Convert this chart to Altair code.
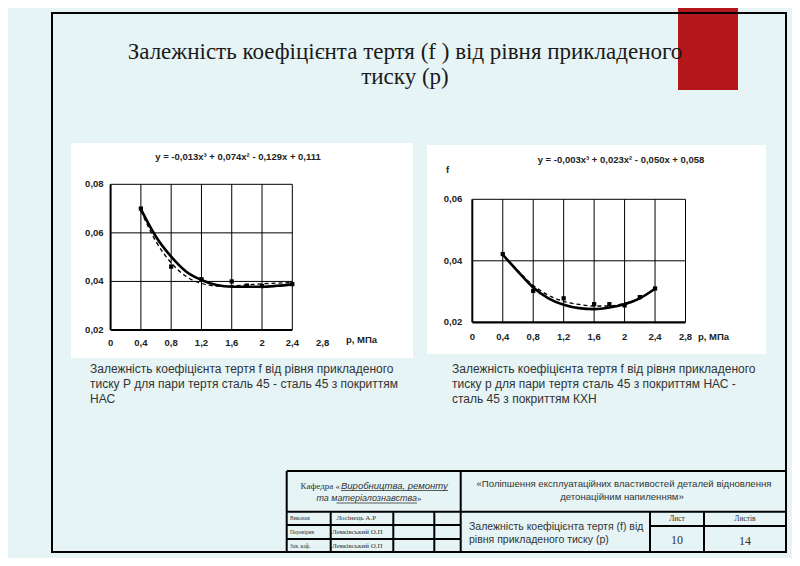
import altair as alt
import pandas as pd

# ---------------- data ----------------
p_ticks = [0, 0.4, 0.8, 1.2, 1.6, 2.0, 2.4, 2.8]
p_labels = ["0", "0,4", "0,8", "1,2", "1,6", "2", "2,4", "2,8"]

# left chart
l_f_ticks = [0.02, 0.04, 0.06, 0.08]
l_f_labels = ["0,02", "0,04", "0,06", "0,08"]
l_grid_p = [0.4, 0.8, 1.2, 1.6, 2.0, 2.4]
l_box_p = 2.4
l_meas_p = [0.4, 0.8, 1.2, 1.6, 1.8, 2.0, 2.4]
l_meas_f = [0.0700, 0.0461, 0.0409, 0.0400, 0.0383, 0.0381, 0.0389]
l_fit_p = [0.4, 0.6, 0.8, 1.0, 1.2, 1.4, 1.6, 1.8, 2.0, 2.2, 2.4]
l_fit_f = [0.0698, 0.0584, 0.0502, 0.0440, 0.0406, 0.0385, 0.0378, 0.0378, 0.0378, 0.0382, 0.0388]
l_dash_f = [0.0691, 0.0564, 0.0477, 0.0420, 0.0392, 0.0381, 0.0382, 0.0386, 0.0390, 0.0393, 0.0395]
l_equation = "y = -0,013x³ + 0,074x² - 0,129x + 0,111"

# right chart
r_f_ticks = [0.02, 0.04, 0.06]
r_f_labels = ["0,02", "0,04", "0,06"]
r_grid_p = [0.4, 0.8, 1.2, 1.6, 2.0, 2.4, 2.8]
r_box_p = 2.8
r_meas_p = [0.4, 0.8, 1.2, 1.6, 1.8, 2.0, 2.2, 2.4]
r_meas_f = [0.0422, 0.0302, 0.0278, 0.0259, 0.0259, 0.0255, 0.0282, 0.0310]
r_fit_p = [0.4, 0.6, 0.8, 1.0, 1.2, 1.4, 1.6, 1.8, 2.0, 2.2, 2.4]
r_fit_f = [0.0420, 0.0365, 0.0313, 0.0278, 0.0257, 0.0246, 0.0243, 0.0248, 0.0259, 0.0278, 0.0309]
r_dash_f = [0.0420, 0.0368, 0.0320, 0.0288, 0.0268, 0.0258, 0.0253, 0.0253, 0.0262, 0.0278, 0.0310]
r_equation = "y = -0,003x³ + 0,023x² - 0,050x + 0,058"

axis_title = "р, МПа"
f_title = "f"

title_lines = ["Залежність коефіцієнта тертя (f ) від рівня прикладеного", "тиску  (р)"]
cap_left = ["Залежність коефіцієнта тертя f від рівня прикладеного",
            "тиску Р для пари тертя сталь 45 - сталь 45 з покриттям",
            "НАС"]
cap_right = ["Залежність коефіцієнта тертя f від рівня прикладеного",
             "тиску р для пари тертя сталь 45 з покриттям НАС -",
             "сталь 45 з покриттям КХН"]

# ---------------- helpers ----------------
O = 8  # page margin
BG = "#e6f4f5"
SANS = "Liberation Sans, Arial, sans-serif"
SERIF = "Liberation Serif, Times New Roman, DejaVu Serif, serif"


def V(v):
    return v - O


def boxes(rows, **kw):
    df = pd.DataFrame([[V(a), V(b), V(c), V(d)] for a, b, c, d in rows], columns=["x", "y", "x2", "y2"])
    return alt.Chart(df).mark_rect(**kw).encode(
        x=alt.X("x:Q", scale=None, axis=None), x2="x2:Q",
        y=alt.Y("y:Q", scale=None, axis=None), y2="y2:Q")


def lines(rows, **kw):
    df = pd.DataFrame([[V(a), V(b), V(c), V(d)] for a, b, c, d in rows], columns=["x", "y", "x2", "y2"])
    return alt.Chart(df).mark_rule(**kw).encode(
        x=alt.X("x:Q", scale=None, axis=None), x2="x2:Q",
        y=alt.Y("y:Q", scale=None, axis=None), y2="y2:Q")


def texts(rows, **kw):
    df = pd.DataFrame([[V(a), V(b), t] for a, b, t in rows], columns=["x", "y", "t"])
    return alt.Chart(df).mark_text(baseline="middle", **kw).encode(
        x=alt.X("x:Q", scale=None, axis=None),
        y=alt.Y("y:Q", scale=None, axis=None),
        text="t:N")


def plot_layers(xr, yr, f_ticks, f_labels, grid_p, box_p, meas_p, meas_f, fit_p, fit_f, dash_f,
                xlab_dy, ylab_dx):
    xs = alt.Scale(domain=[p_ticks[0], p_ticks[-1]], range=xr, nice=False, zero=False)
    ys = alt.Scale(domain=[f_ticks[0], f_ticks[-1]], range=yr, nice=False, zero=False)
    f0, f1 = f_ticks[0], f_ticks[-1]
    X = lambda fld: alt.X(fld, type="quantitative", scale=xs, axis=None)
    Y = lambda fld: alt.Y(fld, type="quantitative", scale=ys, axis=None)

    vgrid = pd.DataFrame({"p": grid_p, "f0": f0, "f1": f1})
    hgrid = pd.DataFrame({"f": f_ticks[1:], "p0": p_ticks[0], "p1": box_p})
    layers = [
        alt.Chart(vgrid).mark_rule(color="black", strokeWidth=1).encode(x=X("p"), y=Y("f0"), y2="f1"),
        alt.Chart(hgrid).mark_rule(color="black", strokeWidth=1).encode(y=Y("f"), x=X("p0"), x2="p1"),
        # axes lines
        alt.Chart(pd.DataFrame({"p": [p_ticks[0]], "f0": [f0], "f1": [f1]})).mark_rule(
            color="black", strokeWidth=2).encode(x=X("p"), y=Y("f0"), y2="f1"),
        alt.Chart(pd.DataFrame({"f": [f0], "p0": [p_ticks[0]], "p1": [box_p]})).mark_rule(
            color="black", strokeWidth=2.2).encode(y=Y("f"), x=X("p0"), x2="p1"),
        # tick labels
        alt.Chart(pd.DataFrame({"p": p_ticks, "lab": p_labels, "f": f0})).mark_text(
            font=SANS, fontWeight="bold", fontSize=9.5, color="#222", dy=xlab_dy, baseline="middle").encode(
            x=X("p"), y=Y("f"), text="lab:N"),
        alt.Chart(pd.DataFrame({"f": f_ticks, "lab": f_labels, "p": p_ticks[0]})).mark_text(
            font=SANS, fontWeight="bold", fontSize=9.5, color="#222", dx=ylab_dx, align="right",
            baseline="middle").encode(x=X("p"), y=Y("f"), text="lab:N"),
        # curves
        alt.Chart(pd.DataFrame({"p": fit_p, "f": dash_f})).mark_line(
            color="black", strokeWidth=1.3, strokeDash=[4, 3], interpolate="monotone").encode(x=X("p"), y=Y("f")),
        alt.Chart(pd.DataFrame({"p": fit_p, "f": fit_f})).mark_line(
            color="black", strokeWidth=2.6, interpolate="monotone").encode(x=X("p"), y=Y("f")),
        alt.Chart(pd.DataFrame({"p": meas_p, "f": meas_f})).mark_point(
            shape="square", filled=True, color="black", size=18, opacity=1).encode(x=X("p"), y=Y("f")),
    ]
    return layers


layers = []
# background decorations
layers.append(boxes([(678, 0, 738, 90)], color="#b3171b"))
layers.append(boxes([(71, 143, 413, 358), (427, 145, 766, 354)], color="white"))
layers.append(boxes([(52, 13, 786, 552)], filled=False, stroke="black", strokeWidth=2))

# title
layers.append(texts([(405, 52, title_lines[0]), (405, 77, title_lines[1])],
                    font=SERIF, fontSize=23, color="#1a1a1a", align="center"))

# charts
layers += plot_layers([V(110.6), V(322.6)], [V(330), V(184.3)], l_f_ticks, l_f_labels, l_grid_p, l_box_p,
                      l_meas_p, l_meas_f, l_fit_p, l_fit_f, l_dash_f, 13, -7)
layers += plot_layers([V(472.3), V(685.5)], [V(322.3), V(199.3)], r_f_ticks, r_f_labels, r_grid_p, r_box_p,
                      r_meas_p, r_meas_f, r_fit_p, r_fit_f, r_dash_f, 15, -10)

layers.append(texts([(238, 157, l_equation), (621, 160, r_equation)],
                    font=SANS, fontWeight="bold", fontSize=9.5, color="#222", align="center"))
layers.append(texts([(346, 340, axis_title), (698, 337, axis_title), (446, 170, f_title)],
                    font=SANS, fontWeight="bold", fontSize=9.5, color="#222", align="left"))

# captions
layers.append(texts([(90, 369 + 15 * i, s) for i, s in enumerate(cap_left)] +
                    [(452, 369 + 15 * i, s) for i, s in enumerate(cap_right)],
                    font=SANS, fontSize=12, color="#333", align="left"))

# title block table
layers.append(lines([
    (286.7, 471, 786, 471), (286.7, 552, 786, 552), (286.7, 511.7, 786, 511.7),
    (286.7, 525, 460.7, 525), (286.7, 539, 460.7, 539), (650, 526, 786, 526),
    (286.7, 471, 286.7, 552), (786, 471, 786, 552), (460.7, 471, 460.7, 552),
    (330.7, 511.7, 330.7, 552), (393.3, 511.7, 393.3, 552), (434.3, 511.7, 434.3, 552),
    (650, 511.7, 650, 552), (704, 511.7, 704, 552),
], color="black", strokeWidth=2))

layers.append(texts([(340, 485.5, "Кафедра «")], font=SERIF, fontSize=9, color="#333", align="right"))
layers.append(texts([(417, 498, "»")], font=SERIF, fontSize=9, color="#333", align="left"))
layers.append(texts([(341, 485.5, "Виробництва, ремонту")], font=SANS, fontStyle="italic", fontSize=9.5,
                    color="#333", align="left"))
layers.append(texts([(417, 498, "та матеріалознавства")], font=SANS, fontStyle="italic", fontSize=9,
                    color="#333", align="right"))
layers.append(lines([(341, 490.5, 448, 490.5), (336.5, 503, 417, 503)], color="#333", strokeWidth=0.8))
layers.append(texts([(624, 484, "«Поліпшення експлуатаційних властивостей деталей відновлення"),
                     (622, 497, "детонаційним напиленням»")],
                    font=SANS, fontSize=9.6, color="#333", align="center"))
layers.append(texts([(290, 518, "Виконав"), (290, 532, "Перевірив"), (290, 546, "Зав. каф.")],
                    font=SERIF, fontSize=5.5, color="#333", align="left"))
layers.append(texts([(336.5, 518, "Лосінець А.Р"), (332, 532, "Левківський О.П"), (332, 546, "Левківський О.П")],
                    font=SERIF, fontSize=7, color="#333", align="left"))
layers.append(texts([(469, 526.5, "Залежність коефіцієнта тертя (f)  від"),
                     (469, 540, "рівня прикладеного  тиску (р)")],
                    font=SANS, fontSize=10.5, color="#333", align="left"))
layers.append(texts([(677, 518.5, "Лист"), (745, 518.5, "Листів")], font=SERIF, fontSize=7.5, color="#333",
                    align="center"))
layers.append(texts([(677, 540, "10"), (745, 540.5, "14")], font=SERIF, fontSize=12, color="#333",
                    align="center"))

chart = alt.layer(*layers).resolve_scale(x="independent", y="independent").properties(
    width=784, height=550, padding=0, autosize=alt.AutoSizeParams(type="none"), background=BG
).configure_view(stroke=None)

chart.save("out.html", embed_options={"renderer": "svg", "actions": False})
